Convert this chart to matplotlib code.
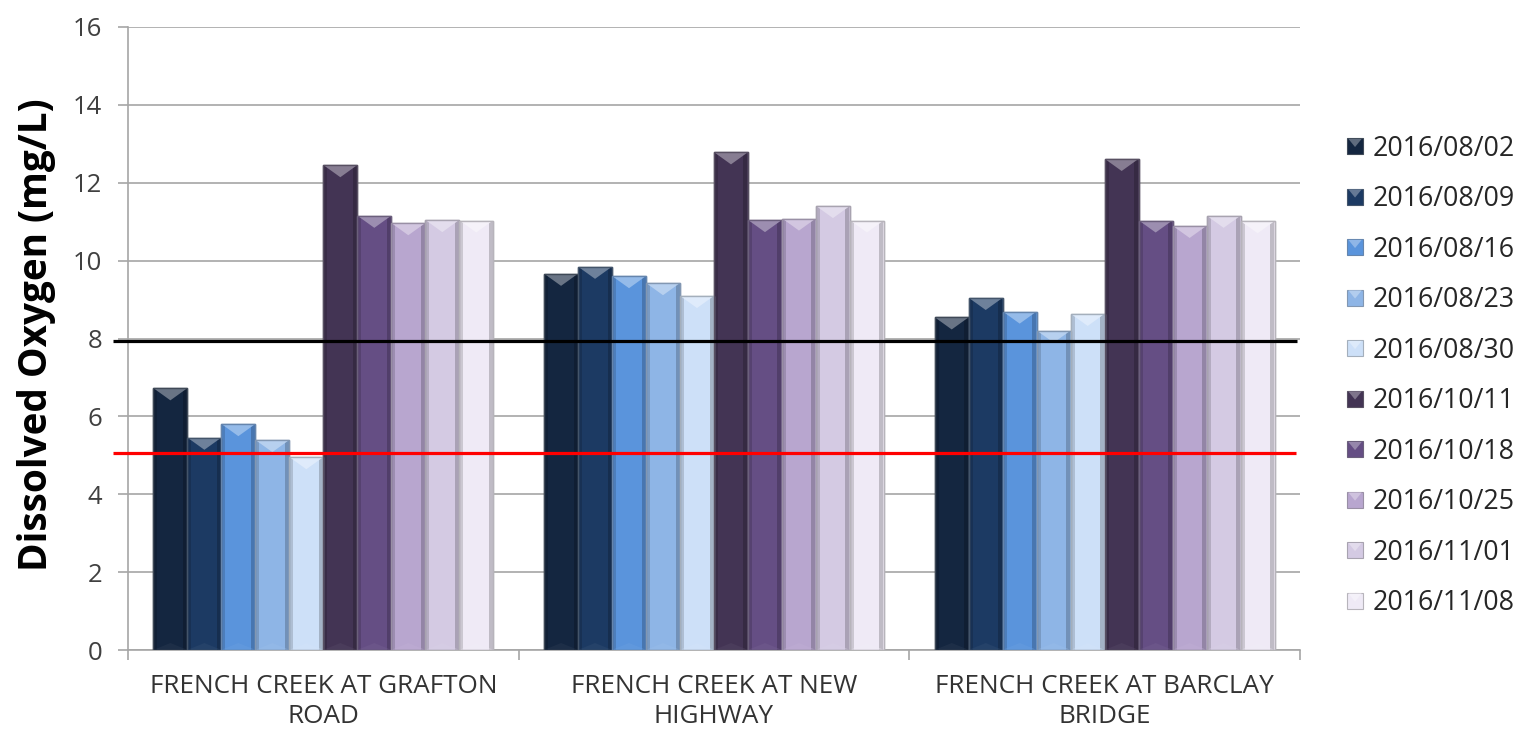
import matplotlib
matplotlib.use("Agg")
import matplotlib.pyplot as plt
import numpy as np
from matplotlib.patches import Rectangle, Polygon
from matplotlib.colors import to_rgb
from matplotlib.legend_handler import HandlerBase
import matplotlib.transforms as mtransforms

plt.rcParams["font.family"] = ["Open Sans", "DejaVu Sans"]

# Sampling sites (x categories)
sites = ["FRENCH CREEK AT GRAFTON\nROAD",
         "FRENCH CREEK AT NEW\nHIGHWAY",
         "FRENCH CREEK AT BARCLAY\nBRIDGE"]

# Sampling dates (series)
dates = ["2016/08/02", "2016/08/09", "2016/08/16", "2016/08/23", "2016/08/30",
         "2016/10/11", "2016/10/18", "2016/10/25", "2016/11/01", "2016/11/08"]

# Dissolved oxygen (mg/L) per date, one value per site
do_0802 = [6.72, 9.66, 8.54]
do_0809 = [5.45, 9.84, 9.04]
do_0816 = [5.80, 9.60, 8.69]
do_0823 = [5.39, 9.42, 8.20]
do_0830 = [4.95, 9.09, 8.63]
do_1011 = [12.45, 12.78, 12.61]
do_1018 = [11.15, 11.04, 11.03]
do_1025 = [10.96, 11.08, 10.89]
do_1101 = [11.04, 11.40, 11.15]
do_1108 = [11.03, 11.03, 11.01]

series = [do_0802, do_0809, do_0816, do_0823, do_0830,
          do_1011, do_1018, do_1025, do_1101, do_1108]

colors = ["#142640", "#1c3a63", "#5a94dc", "#8eb5e6", "#cde0f8",
          "#433454", "#654e84", "#b8a6cf", "#d4cae3", "#efeaf6"]

# Reference levels (mg/L)
upper_level = 7.94
lower_level = 5.07

yticks = [0, 2, 4, 6, 8, 10, 12, 14, 16]


def lighten(c, f):
    r = np.array(to_rgb(c))
    return tuple(r + (1 - r) * f)


def darken(c, f):
    r = np.array(to_rgb(c))
    return tuple(r * f)


def edge_of(c):
    r = np.array(to_rgb(c))
    return tuple(r * 0.55 + np.array([0.45, 0.45, 0.45]) * 0.45)


W, H = 1537, 749
fig = plt.figure(figsize=(W / 100, H / 100), dpi=100)
ax = fig.add_axes([128 / W, 99 / H, 1172 / W, 623 / H])
ax.set_xlim(-0.5, 2.5)
ax.set_ylim(0, 16)

# data units per pixel
dx = 3.0 / 1172
dy = 16.0 / 623

x = np.arange(len(sites))
bw = 0.087
n = len(series)

for i, (vals, c) in enumerate(zip(series, colors)):
    off = (i - (n - 1) / 2) * bw
    bars = ax.bar(x + off, vals, bw, color=c, edgecolor=edge_of(c),
                  linewidth=1.0, zorder=3, label=dates[i])
    for b in bars:
        x0 = b.get_x()
        w = b.get_width()
        h = b.get_height()
        x1 = x0 + w
        xc = x0 + w / 2
        # side shading
        ax.add_patch(Rectangle((x0 + dx * 0.5, 0), 3.5 * dx, h - 1 * dy,
                               facecolor=darken(c, 0.85), edgecolor="none", zorder=3.1))
        ax.add_patch(Rectangle((x1 - 4.5 * dx, 0), 4 * dx, h - 1 * dy,
                               facecolor=darken(c, 0.8), edgecolor="none", zorder=3.1))
        # bottom bevel
        ax.add_patch(Polygon([(x0 + dx, 0.5 * dy), (x1 - dx, 0.5 * dy),
                              (xc, 7 * dy)],
                             closed=True, facecolor=lighten(c, 0.08),
                             edgecolor="none", zorder=3.15, alpha=0.5))
        # top bevel wedge
        ax.add_patch(Polygon([(x0 + dx, h - 0.5 * dy), (x1 - dx, h - 0.5 * dy),
                              (xc, h - 12 * dy)],
                             closed=True, facecolor=lighten(c, 0.36),
                             edgecolor="none", zorder=3.2))
        ax.add_patch(Rectangle((x0, 0), w, h, facecolor="none",
                               edgecolor=edge_of(c), linewidth=1.0, zorder=3.3))

# reference lines
blend = mtransforms.blended_transform_factory(ax.transAxes, ax.transData)
ax.plot([-0.013, 0.9975], [upper_level, upper_level], transform=blend,
        color="black", lw=2.3, clip_on=False, zorder=4, solid_capstyle="butt")
ax.plot([-0.013, 0.9965], [lower_level, lower_level], transform=blend,
        color="#ff0000", lw=2.3, clip_on=False, zorder=4, solid_capstyle="butt")

# axes styling
grid_c = "#a6a6a6"
ax.set_yticks(yticks)
ax.yaxis.grid(True, color=grid_c, lw=1.2)
ax.set_axisbelow(True)
for s in ["top", "right"]:
    ax.spines[s].set_visible(False)
ax.spines["left"].set_color(grid_c)
ax.spines["bottom"].set_color(grid_c)
ax.spines["left"].set_linewidth(1.2)
ax.spines["bottom"].set_linewidth(1.2)

ax.tick_params(axis="y", length=7.5, width=1.2, color=grid_c, pad=11,
               labelsize=18.5, labelcolor="#404040")
ax.set_xticks(x)
ax.set_xticklabels(sites, fontsize=18.8, color="#333333", linespacing=1.3)
ax.set_xticks([-0.5, 0.5, 1.5, 2.5], minor=True)
ax.tick_params(axis="x", which="major", length=0, pad=17)
ax.tick_params(axis="x", which="minor", length=7.5, width=1.2, color=grid_c)

fig.text(37 / W, 1 - 335 / H, "Dissolved Oxygen (mg/L)", rotation=90,
         ha="center", va="center", fontsize=27.8, fontweight="bold", color="black")


class BevelSquare(HandlerBase):
    def create_artists(self, legend, orig_handle, xdescent, ydescent,
                       width, height, fontsize, trans):
        c = orig_handle.get_facecolor()
        s = min(width, height)
        x0 = -xdescent
        y0 = -ydescent + (height - s) / 2
        sq = Rectangle((x0, y0), s, s, facecolor=c, edgecolor=edge_of(c[:3]),
                       linewidth=0.8, transform=trans)
        tri = Polygon([(x0 + 1, y0 + s - 0.5), (x0 + s - 1, y0 + s - 0.5),
                       (x0 + s / 2, y0 + s * 0.45)], closed=True,
                      facecolor=lighten(c[:3], 0.32), edgecolor="none",
                      transform=trans)
        return [sq, tri]


handles = [Rectangle((0, 0), 1, 1, facecolor=c) for c in colors]
leg = fig.legend(handles, dates, loc="center left",
                 bbox_to_anchor=(1347 / W, 1 - 376 / H), frameon=False,
                 fontsize=19.3, handlelength=0.6, handleheight=0.6,
                 handletextpad=0.35, labelspacing=0.84, borderpad=0,
                 borderaxespad=0,
                 handler_map={Rectangle: BevelSquare()})
for t in leg.get_texts():
    t.set_color("#262626")

fig.savefig("out.png", dpi=100)
